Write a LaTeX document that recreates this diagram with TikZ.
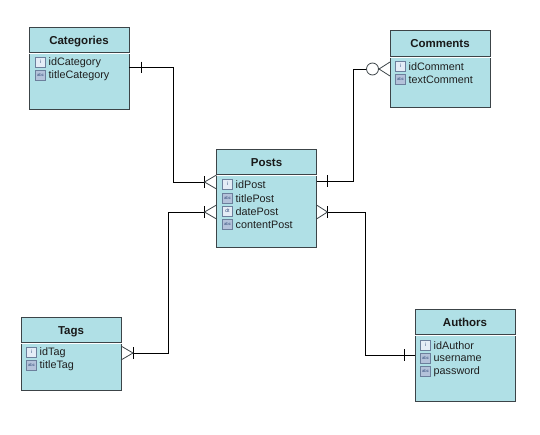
\documentclass[tikz,border=0pt]{standalone}
\usepackage{fontspec}
\setmainfont{Liberation Sans}
\definecolor{boxfill}{HTML}{B0E0E6}
\definecolor{boxedge}{HTML}{3C4448}
\definecolor{iconedge}{HTML}{6C7F9C}
\definecolor{iconfill}{HTML}{E4ECF6}
\definecolor{iconfilltwo}{HTML}{B4C2DA}
\definecolor{iconink}{HTML}{2F4A78}
\tikzset{
  body/.style={fill=boxfill,inner sep=0pt,minimum width=100pt,outer sep=0pt},
  outline/.style={draw=boxedge,line width=1pt},
  header/.style={body,outline,minimum height=25pt,text height=11pt,text depth=2pt,font=\bfseries\fontsize{11.5}{13}\selectfont,text=black!90},
  fieldtext/.style={anchor=west,inner sep=0pt,font=\fontsize{10.8}{12}\selectfont,text=black!88},
  fieldicon/.style={draw=iconedge,fill=iconfill,line width=.6pt,minimum size=10pt,inner sep=0pt,text=iconink,font=\fontsize{5}{5}\selectfont},
  texticon/.style={fieldicon,fill=iconfilltwo,font=\fontsize{4.2}{5}\selectfont},
  link/.style={draw=black,line width=1pt},
  tick/.style={draw=black,line width=.9pt},
  foot/.style={draw=boxedge,line width=.8pt},
}
\newcommand{\fieldrow}[5][fieldicon]{%
  \node[#1] (#2i) at (#3,#4) {#5};
}
\newcommand{\fieldlabel}[4]{%
  \node[fieldtext] (#1t) at (#2+8,#3+.8) {#4};
}
\newcommand{\boxsides}[1]{%
  \draw[outline] (#1.north west) -- (#1.south west) -- (#1.south east) -- (#1.north east);
}
\begin{document}
\begin{tikzpicture}[x=1pt,y=-1pt]
\useasboundingbox (0,0) rectangle (540,434);
% Categories
\node[body,minimum height=55.5pt] (catb) at (79,81.25) {};
\boxsides{catb}
\node[header] (cat) at (79,39.5) {Categories};
\fieldrow{c1}{40.5}{62}{i}\fieldlabel{c1}{40.5}{62}{idCategory}
\fieldrow[texticon]{c2}{40.5}{75}{abc}\fieldlabel{c2}{40.5}{75}{titleCategory}
% Posts
\node[body,minimum height=71.5pt] (postb) at (266.5,211.25) {};
\boxsides{postb}
\node[header] (post) at (266.5,161.5) {Posts};
\fieldrow{p1}{227.5}{184}{i}\fieldlabel{p1}{227.5}{184}{idPost}
\fieldrow[texticon]{p2}{227.5}{198}{abc}\fieldlabel{p2}{227.5}{198}{titlePost}
\fieldrow{p3}{227.5}{211}{dt}\fieldlabel{p3}{227.5}{211}{datePost}
\fieldrow[texticon]{p4}{227.5}{224}{abc}\fieldlabel{p4}{227.5}{224}{contentPost}
% Comments
\node[body,minimum height=49.5pt] (comb) at (440,82.25) {};
\boxsides{comb}
\node[header,minimum height=26pt] (com) at (440,43) {Comments};
\fieldrow{m1}{400.5}{66}{i}\fieldlabel{m1}{400.5}{66}{idComment}
\fieldrow[texticon]{m2}{400.5}{79}{abc}\fieldlabel{m2}{400.5}{79}{textComment}
% Tags
\node[body,minimum height=46.5pt] (tagb) at (71,366.75) {};
\boxsides{tagb}
\node[header] (tag) at (71,329.5) {Tags};
\fieldrow{t1}{31.5}{352}{i}\fieldlabel{t1}{31.5}{352}{idTag}
\fieldrow[texticon]{t2}{31.5}{365}{abc}\fieldlabel{t2}{31.5}{365}{titleTag}
% Authors
\node[body,minimum height=65.5pt] (autb) at (465,368.25) {};
\boxsides{autb}
\node[header] (aut) at (465,321.5) {Authors};
\fieldrow{a1}{425.5}{345}{i}\fieldlabel{a1}{425.5}{345}{idAuthor}
\fieldrow[texticon]{a2}{425.5}{358}{abc}\fieldlabel{a2}{425.5}{358}{username}
\fieldrow[texticon]{a3}{425.5}{371}{abc}\fieldlabel{a3}{425.5}{371}{password}
% Named connector ends
\coordinate (catout) at (catb.east |- 0,67);
\coordinate (postcat) at (postb.west |- 0,182);
\coordinate (posttag) at (postb.west |- 0,212);
\coordinate (postcom) at (postb.east |- 0,181);
\coordinate (postaut) at (postb.east |- 0,212);
\coordinate (comin) at (comb.west |- 0,69);
\coordinate (tagin) at (tagb.east |- 0,353);
\coordinate (autin) at (autb.west |- 0,355);
\node[draw=boxedge,line width=.8pt,circle,minimum size=12pt,inner sep=0pt,fill=white] (ring) at (372.5,69) {};
% Connectors
\draw[link] (catout) -- (173,67) |- ([xshift=-12pt]postcat);
\draw[link] ([xshift=12pt]tagin) -- (tagin -| 168,0) |- ([xshift=-12pt]posttag);
\draw[link] (postcom) -- (353,181) |- (ring.west);
\draw[link] ([xshift=11pt]postaut) -- (365,212) |- (autin);
% Ticks
\draw[tick] ([xshift=12pt]catout) ++(0,-5.5) -- ++(0,11);
\draw[tick] ([xshift=-12pt]postcat) ++(0,-6) -- ++(0,12);
\draw[tick] ([xshift=-12pt]posttag) ++(0,-6) -- ++(0,12);
\draw[tick] ([xshift=11pt]postcom) ++(0,-6) -- ++(0,12);
\draw[tick] ([xshift=11pt]postaut) ++(0,-6) -- ++(0,12);
\draw[tick] ([xshift=12pt]tagin) ++(0,-6) -- ++(0,12);
\draw[tick] ([xshift=-11pt]autin) ++(0,-6) -- ++(0,12);
% Crow's feet
\draw[foot] ([yshift=7pt]postcat) -- ([xshift=-12pt]postcat) -- ([yshift=-7pt]postcat);
\draw[foot] ([yshift=7pt]posttag) -- ([xshift=-12pt]posttag) -- ([yshift=-7pt]posttag);
\draw[foot] ([yshift=7pt]postaut) -- ([xshift=11pt]postaut) -- ([yshift=-7pt]postaut);
\draw[foot] ([yshift=7pt]tagin) -- ([xshift=12pt]tagin) -- ([yshift=-7pt]tagin);
\draw[foot] ([yshift=7pt]comin) -- ([xshift=-11pt]comin) -- ([yshift=-7pt]comin);
\end{tikzpicture}
\end{document}
